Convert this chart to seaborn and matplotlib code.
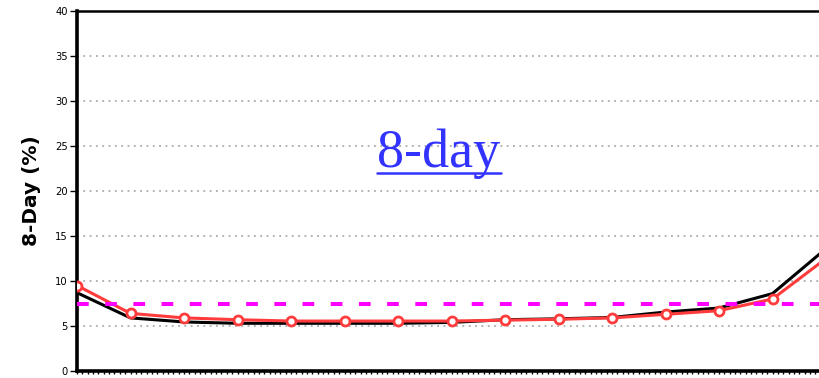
import matplotlib
matplotlib.use("Agg")
import matplotlib.pyplot as plt
import seaborn as sns
import pandas as pd
import numpy as np
from matplotlib.lines import Line2D

# ---- data ----
x_index = list(range(15))
red_values = [9.5, 6.4, 5.9, 5.7, 5.55, 5.55, 5.55, 5.55, 5.65, 5.75, 5.9, 6.3, 6.7, 8.0, 12.5]
black_values = [8.7, 5.9, 5.45, 5.3, 5.3, 5.3, 5.3, 5.4, 5.7, 5.8, 5.95, 6.55, 7.0, 8.6, 13.6]
threshold = 7.5
y_ticks = [0, 5, 10, 15, 20, 25, 30, 35, 40]
y_label = "8-Day (%)"
title_text = "8-day"

sns.set_style("white")
plt.rcParams['font.family'] = ['DejaVu Sans']
plt.rcParams['text.color'] = 'black'
plt.rcParams['axes.labelcolor'] = 'black'
plt.rcParams['ytick.color'] = 'black'
plt.rcParams['xtick.color'] = 'black'

W, H, DPI = 820, 378, 100
fig = plt.figure(figsize=(W / DPI, H / DPI), dpi=DPI)
left_px, top_px, bottom_px = 77, 11, 371
xmax = 14.5
step_px = 53.5
right_px = left_px + xmax * step_px
ax = fig.add_axes([left_px / W, 1 - bottom_px / H, (right_px - left_px) / W, (bottom_px - top_px) / H])

df = pd.DataFrame({"x": x_index, "black": black_values, "red": red_values})

# grid
for yv in y_ticks[1:-1]:
    ax.axhline(yv, color="#aaaaaa", lw=1.3, ls=(0, (1, 2.5)), zorder=0)

sns.lineplot(data=df, x="x", y="black", ax=ax, color="black", lw=2.2, zorder=3)
sns.lineplot(data=df, x="x", y="red", ax=ax, color="#ff3b3b", lw=2.2, marker="o",
             markersize=6.5, markerfacecolor="white", markeredgecolor="#ff3b3b",
             markeredgewidth=2.0, zorder=4)
ax.axhline(threshold, color="#ff00ff", lw=2.9, dashes=(2.9, 4.1), zorder=5)

ax.set_xlim(0, xmax)
ax.set_ylim(0, 40)
ax.set_yticks(y_ticks)
ax.set_yticklabels([str(v) for v in y_ticks], fontsize=8, color="black",
                   family=['DejaVu Sans'], stretch='condensed')
ax.set_xticks(np.arange(0, xmax + 0.01, 0.1))
ax.set_xticklabels([])
ax.tick_params(axis="x", length=2.5, width=1.0, color="black", direction="out", bottom=True)
ax.tick_params(axis="y", length=5, width=1.0, color="black", direction="out", left=True, pad=1.5,
               labelcolor="black")
ax.set_xlabel("")
ax.set_ylabel(y_label, fontsize=14.5, fontweight="bold", labelpad=10, color="black",
              family=['DejaVu Sans'])

for s in ["left", "bottom"]:
    ax.spines[s].set_linewidth(2.6)
    ax.spines[s].set_color("black")
ax.spines["right"].set_visible(False)
ax.spines["top"].set_linewidth(1.8)
ax.spines["top"].set_color("black")
ax.spines["top"].set_linestyle((0, (2, 1)))

# title
t = fig.text(439 / W, 1 - 154 / H, title_text, color="#3333ff", fontsize=39,
             family=['Liberation Serif', 'DejaVu Serif'], ha="center", va="center")
fig.canvas.draw()
bb = t.get_window_extent(renderer=fig.canvas.get_renderer())
uy = 1 - 173 / H
fig.add_artist(Line2D([bb.x0 / W, bb.x1 / W], [uy, uy], color="#3333ff", lw=1.8,
                      transform=fig.transFigure))

fig.savefig("out.png", dpi=DPI)
